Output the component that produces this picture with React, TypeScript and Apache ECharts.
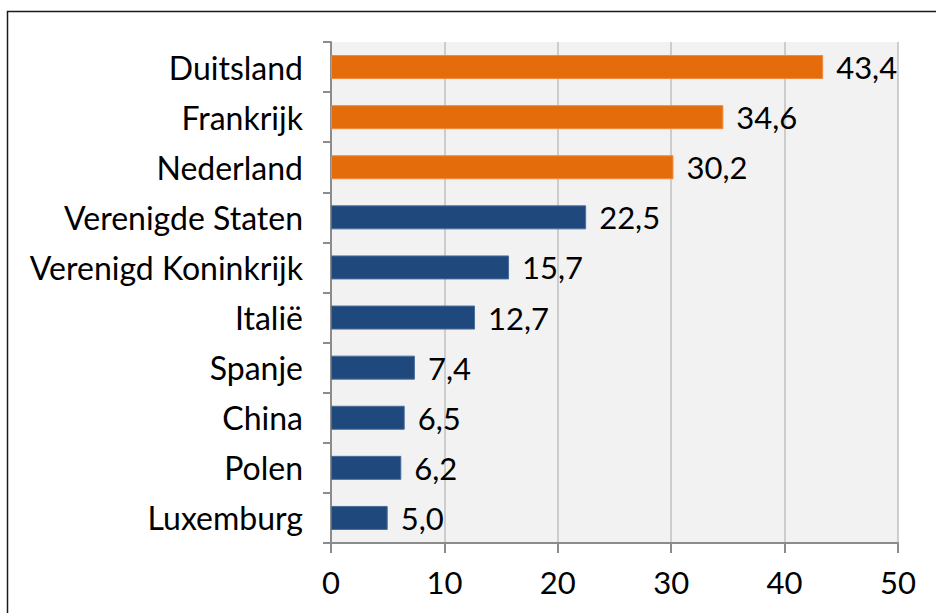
import React, { useEffect, useRef } from "react";
import * as echarts from "echarts";

const categories = [
  "Duitsland",
  "Frankrijk",
  "Nederland",
  "Verenigde Staten",
  "Verenigd Koninkrijk",
  "Italië",
  "Spanje",
  "China",
  "Polen",
  "Luxemburg",
];
const values = [43.4, 34.6, 30.2, 22.5, 15.7, 12.7, 7.4, 6.5, 6.2, 5.0];
const highlighted = [true, true, true, false, false, false, false, false, false, false];
const xTicks = [0, 10, 20, 30, 40, 50];

const ORANGE = "#e46c0a";
const BLUE = "#1f497d";

export default function App() {
  const ref = useRef<HTMLDivElement>(null);
  useEffect(() => {
    if (!ref.current) return;
    const chart = echarts.init(ref.current, null, { renderer: "svg" });
    const font = "Lato, 'Open Sans', sans-serif";
    chart.setOption({
      animation: false,
      backgroundColor: "#ffffff",
      textStyle: { fontFamily: font },
      graphic: [
        {
          type: "rect",
          shape: { x: 7.5, y: 11.5, width: 960, height: 640 },
          style: { fill: "none", stroke: "#1a1a1a", lineWidth: 1.5 },
          silent: true,
          z: 100,
        },
      ],
      grid: {
        left: 331,
        right: 38,
        top: 42,
        bottom: 70,
        show: true,
        backgroundColor: "#f2f2f2",
        borderWidth: 0,
      },
      xAxis: {
        type: "value",
        min: xTicks[0],
        max: xTicks[xTicks.length - 1],
        interval: 10,
        axisLine: { show: true, lineStyle: { color: "#8c8c8c", width: 2 } },
        axisTick: { show: true, length: 10, lineStyle: { color: "#8c8c8c", width: 2 } },
        splitLine: { show: true, lineStyle: { color: "#c0c0c0", width: 1.5 } },
        axisLabel: { fontSize: 31, color: "#000", margin: 23, fontFamily: font },
      },
      yAxis: {
        type: "category",
        data: categories,
        inverse: true,
        axisLine: { show: true, lineStyle: { color: "#8c8c8c", width: 2 } },
        axisTick: { show: true, length: 8, interval: 0, lineStyle: { color: "#8c8c8c", width: 2 } },
        axisLabel: { fontSize: 32, color: "#000", margin: 28, fontFamily: font },
        splitLine: { show: false },
      },
      series: [
        {
          type: "bar",
          data: values.map((v, i) => ({
            value: v,
            itemStyle: {
              color: highlighted[i] ? ORANGE : BLUE,
              borderColor: highlighted[i] ? "#f08a3c" : "#4a6d9a",
              borderWidth: 1,
            },
          })),
          barWidth: 24,
          label: {
            show: true,
            position: "right",
            distance: 13,
            fontSize: 31,
            color: "#000",
            fontFamily: font,
            formatter: (p: any) => p.value.toFixed(1).replace(".", ","),
          },
        },
      ],
    });
    return () => chart.dispose();
  }, []);
  return (
    <div
      ref={ref}
      style={{ position: "fixed", left: 0, top: 0, width: 936, height: 613 }}
    />
  );
}
